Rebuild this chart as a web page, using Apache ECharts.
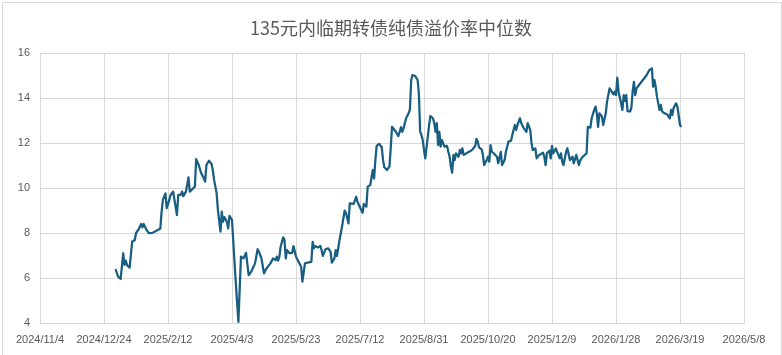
<!DOCTYPE html>
<html>
<head>
<meta charset="utf-8">
<script src="https://cdn.jsdelivr.net/npm/echarts@6/dist/echarts.min.js"></script>
<style>html,body{margin:0;padding:0;background:#fff;}#c{width:782px;height:355px;}</style>
</head>
<body>
<div id="c"></div>
<script>
const chartTitle = '135元内临期转债纯债溢价率中位数';
const axisStart = '2024-11-04';
const axisEnd = '2026-05-08';
const tickDays = 50;
const yTicks = [4, 6, 8, 10, 12, 14, 16];

const dates = [
'2025-01-02','2025-01-04','2025-01-06','2025-01-08','2025-01-09','2025-01-10','2025-01-11','2025-01-13','2025-01-15','2025-01-16',
'2025-01-17','2025-01-18','2025-01-20','2025-01-22','2025-01-23','2025-01-24','2025-01-26','2025-01-28','2025-01-31','2025-02-04',
'2025-02-06','2025-02-07','2025-02-08','2025-02-10','2025-02-11','2025-02-13','2025-02-14','2025-02-16','2025-02-17','2025-02-19',
'2025-02-20','2025-02-22','2025-02-23','2025-02-24','2025-02-26','2025-02-28','2025-03-01','2025-03-02','2025-03-05','2025-03-06',
'2025-03-08','2025-03-10','2025-03-12','2025-03-13','2025-03-14','2025-03-16','2025-03-18','2025-03-19','2025-03-20','2025-03-21',
'2025-03-22','2025-03-23','2025-03-25','2025-03-26','2025-03-27','2025-03-28','2025-03-30','2025-03-31','2025-04-01','2025-04-03',
'2025-04-04','2025-04-06','2025-04-08','2025-04-10','2025-04-12','2025-04-14','2025-04-15','2025-04-16','2025-04-18','2025-04-21',
'2025-04-23','2025-04-24','2025-04-26','2025-04-28','2025-04-30','2025-05-03','2025-05-05','2025-05-07','2025-05-08','2025-05-09',
'2025-05-10','2025-05-11','2025-05-13','2025-05-14','2025-05-15','2025-05-16','2025-05-18','2025-05-20','2025-05-21','2025-05-23',
'2025-05-25','2025-05-27','2025-05-28','2025-05-30','2025-06-01','2025-06-04','2025-06-05','2025-06-06','2025-06-07','2025-06-09',
'2025-06-11','2025-06-12','2025-06-13','2025-06-15','2025-06-16','2025-06-17','2025-06-19','2025-06-20','2025-06-22','2025-06-23',
'2025-06-24','2025-06-26','2025-06-28','2025-06-30','2025-07-01','2025-07-03','2025-07-04','2025-07-05','2025-07-07','2025-07-09',
'2025-07-10','2025-07-11','2025-07-13','2025-07-14','2025-07-15','2025-07-17','2025-07-18','2025-07-20','2025-07-21','2025-07-22',
'2025-07-23','2025-07-24','2025-07-25','2025-07-27','2025-07-29','2025-07-30','2025-07-31','2025-08-02','2025-08-04','2025-08-05',
'2025-08-06','2025-08-07','2025-08-09','2025-08-10','2025-08-11','2025-08-13','2025-08-14','2025-08-15','2025-08-16','2025-08-17',
'2025-08-19','2025-08-20','2025-08-21','2025-08-22','2025-08-24','2025-08-26','2025-08-27','2025-08-28','2025-08-29','2025-08-30',
'2025-08-31','2025-09-01','2025-09-02','2025-09-04','2025-09-05','2025-09-07','2025-09-08','2025-09-09','2025-09-10','2025-09-11',
'2025-09-12','2025-09-13','2025-09-14','2025-09-15','2025-09-16','2025-09-18','2025-09-19','2025-09-20','2025-09-21','2025-09-22',
'2025-09-23','2025-09-24','2025-09-25','2025-09-27','2025-09-28','2025-09-29','2025-09-30','2025-10-01','2025-10-03','2025-10-06',
'2025-10-08','2025-10-10','2025-10-11','2025-10-12','2025-10-13','2025-10-15','2025-10-16','2025-10-17','2025-10-19','2025-10-20',
'2025-10-21','2025-10-22','2025-10-23','2025-10-25','2025-10-26','2025-10-27','2025-10-28','2025-10-30','2025-10-31','2025-11-02',
'2025-11-03','2025-11-05','2025-11-07','2025-11-08','2025-11-10','2025-11-11','2025-11-12','2025-11-14','2025-11-15','2025-11-17',
'2025-11-19','2025-11-20','2025-11-22','2025-11-23','2025-11-24','2025-11-26','2025-11-27','2025-11-29','2025-12-02','2025-12-03',
'2025-12-04','2025-12-05','2025-12-07','2025-12-08','2025-12-09','2025-12-10','2025-12-12','2025-12-13','2025-12-15','2025-12-16',
'2025-12-17','2025-12-18','2025-12-20','2025-12-21','2025-12-22','2025-12-23','2025-12-25','2025-12-26','2025-12-28','2025-12-29',
'2025-12-30','2025-12-31','2026-01-02','2026-01-05','2026-01-06','2026-01-08','2026-01-09','2026-01-11','2026-01-12','2026-01-13',
'2026-01-14','2026-01-15','2026-01-17','2026-01-18','2026-01-20','2026-01-21','2026-01-23','2026-01-24','2026-01-26','2026-01-27',
'2026-01-28','2026-01-29','2026-01-30','2026-02-01','2026-02-02','2026-02-03','2026-02-04','2026-02-05','2026-02-06','2026-02-08',
'2026-02-09','2026-02-10','2026-02-11','2026-02-12','2026-02-13','2026-02-15','2026-02-18','2026-02-21','2026-02-23','2026-02-25',
'2026-02-26','2026-02-27','2026-02-28','2026-03-01','2026-03-03','2026-03-04','2026-03-05','2026-03-07','2026-03-09','2026-03-10',
'2026-03-11','2026-03-12','2026-03-13','2026-03-14','2026-03-16','2026-03-17','2026-03-18','2026-03-19','2026-03-20'
];

const premium = [
6.40,6.06,5.96,7.10,6.58,6.77,6.58,6.46,7.61,7.69,
7.69,7.99,8.16,8.40,8.25,8.40,8.16,7.99,8.01,8.13,
8.20,8.95,9.47,9.76,9.10,9.47,9.69,9.84,9.80,8.80,
9.69,9.69,9.84,9.64,9.84,10.47,9.84,9.80,10.06,11.28,
11.02,10.65,10.43,10.28,11.02,11.21,11.07,10.80,10.36,10.28,
9.76,9.02,8.06,8.95,8.50,8.71,8.50,8.20,8.76,8.58,
8.50,5.75,4.05,6.95,6.87,7.12,7.17,6.13,6.28,6.65,
7.28,7.17,6.87,6.21,6.43,6.65,6.87,6.80,6.95,6.77,
6.95,7.39,7.81,7.69,6.87,7.24,7.10,7.12,7.42,6.95,
6.72,6.50,5.84,6.65,6.68,6.72,7.61,7.32,7.42,7.36,
7.42,7.24,6.98,7.28,7.24,7.32,7.17,6.68,6.87,7.24,
6.98,7.69,8.30,8.99,8.90,8.43,9.32,9.32,9.29,9.61,
9.39,9.32,9.02,8.90,9.29,9.17,10.06,10.13,10.09,10.80,
10.43,11.24,11.87,11.96,11.81,11.24,10.92,10.80,10.95,11.76,
12.72,12.80,12.50,12.40,12.31,12.70,12.50,12.65,12.88,13.10,
13.32,13.50,14.80,15.02,14.98,14.80,14.20,12.50,12.36,12.13,
11.69,11.32,11.28,12.80,13.20,13.10,12.88,12.50,12.88,11.91,
12.50,11.84,12.13,12.06,11.84,11.87,11.61,11.39,10.95,10.68,
11.47,11.24,11.54,11.39,11.69,11.54,11.76,11.47,11.54,11.63,
11.72,11.87,12.18,12.06,11.81,11.72,11.47,11.02,11.24,11.39,
11.17,11.91,11.61,11.51,11.57,11.39,11.10,11.61,11.02,11.24,
11.61,12.06,12.10,12.36,12.80,12.58,12.80,13.10,12.88,12.65,
12.50,12.88,12.58,11.99,11.69,11.76,11.32,11.47,11.57,11.39,
11.02,11.54,11.66,11.32,11.87,11.54,11.76,11.61,11.32,11.54,
11.17,11.02,11.61,11.76,11.72,11.24,11.39,11.10,11.47,11.50,
11.02,11.22,11.39,11.54,12.72,12.68,13.10,13.47,13.62,13.32,
12.72,13.32,13.17,12.80,13.32,13.84,14.43,14.36,14.16,14.28,
14.13,14.90,14.28,13.76,13.47,14.13,13.87,14.13,13.42,13.40,
13.56,14.28,14.72,14.13,14.43,14.58,14.80,15.02,15.24,15.32,
14.50,14.80,14.50,14.06,13.47,13.69,13.40,13.32,13.27,13.32,
13.10,13.47,13.24,13.56,13.76,13.62,13.56,12.80,12.72
];

function toUTC(s) { const p = s.split('-').map(Number); return Date.UTC(p[0], p[1] - 1, p[2]); }
const DAY = 86400000;
const base = toUTC(axisStart);
const dayOf = s => Math.round((toUTC(s) - base) / DAY);
const seriesData = dates.map((d, i) => [dayOf(d), premium[i]]);

function fmtDay(v) {
  const dt = new Date(base + v * DAY);
  return dt.getUTCFullYear() + '/' + (dt.getUTCMonth() + 1) + '/' + dt.getUTCDate();
}

const gridColor = '#d9d9d9';
const textColor = '#595959';
const chart = echarts.init(document.getElementById('c'), null, { renderer: 'canvas' });
chart.setOption({
  animation: false,
  backgroundColor: '#ffffff',
  title: {
    text: chartTitle,
    left: 'center',
    top: 14,
    textStyle: { fontFamily: '"Noto Sans CJK SC", sans-serif', fontSize: 18, fontWeight: 'normal', color: textColor }
  },
  graphic: [{
    type: 'rect', left: 0, top: 0, silent: true,
    shape: { x: 0.5, y: 0.5, width: 779, height: 353 },
    style: { fill: 'none', stroke: gridColor, lineWidth: 1 }
  }],
  grid: { left: 40, right: 38, top: 53, bottom: 32, containLabel: false },
  xAxis: {
    type: 'value',
    min: 0,
    max: dayOf(axisEnd),
    interval: tickDays,
    axisLine: { show: true, lineStyle: { color: gridColor, width: 1 } },
    axisTick: { show: false },
    splitLine: { show: true, lineStyle: { color: gridColor, width: 1 } },
    axisLabel: {
      formatter: fmtDay, margin: 11, color: textColor, fontSize: 11,
      fontFamily: '"Liberation Sans", Arial, sans-serif',
      showMinLabel: true, showMaxLabel: true
    }
  },
  yAxis: {
    type: 'value',
    min: yTicks[0],
    max: yTicks[yTicks.length - 1],
    interval: yTicks[1] - yTicks[0],
    axisLine: { show: false },
    axisTick: { show: false },
    splitLine: { show: true, lineStyle: { color: gridColor, width: 1 } },
    axisLabel: { margin: 10, color: textColor, fontSize: 11, fontFamily: '"Liberation Sans", Arial, sans-serif' }
  },
  series: [{
    type: 'line',
    data: seriesData,
    showSymbol: false,
    symbol: 'none',
    lineStyle: { color: '#175e82', width: 2.25, join: 'round' },
    itemStyle: { color: '#175e82' }
  }]
});
</script>
</body>
</html>
